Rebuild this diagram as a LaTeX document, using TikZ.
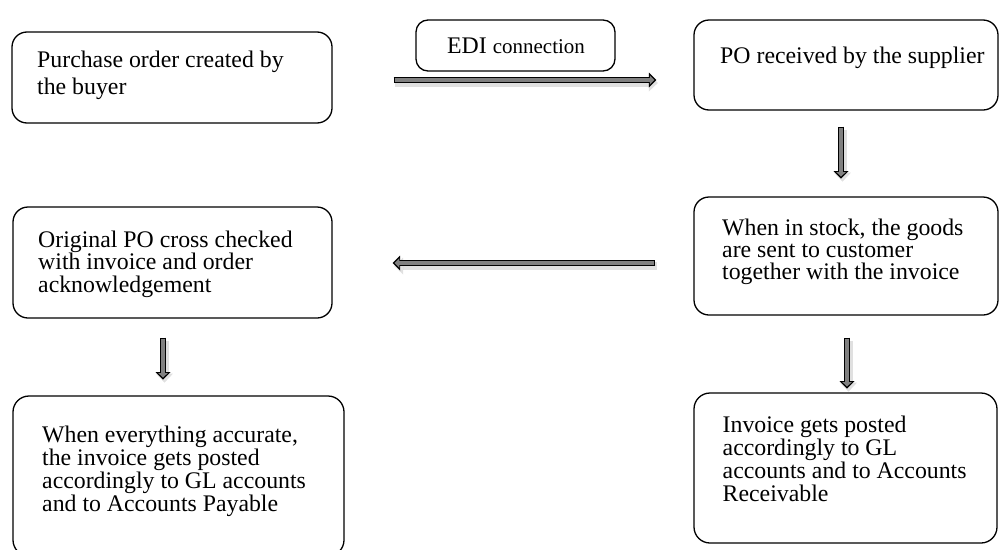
\documentclass[tikz,border=0pt]{standalone}
\usepackage{fontspec}
\setmainfont{Liberation Serif}
\usetikzlibrary{arrows.meta}
\newcommand{\boxtext}[2]{\parbox[t]{330pt}{\fontsize{23.8pt}{#1}\selectfont\lineskiplimit=-100pt #2}}
\begin{document}
\begin{tikzpicture}[x=1pt,y=-1pt,
  box/.style={draw, line width=1.3pt, rounded corners=15pt, inner sep=0pt},
  txt/.style={anchor=base west, inner sep=0pt},
  flow/.style={draw=gray, line width=3.4pt,
    -{Triangle[length=4.6pt,width=9.5pt,line width=0pt]},
    shorten >=2pt, shorten <=1.3pt,
    preaction={draw=black, opacity=0.12, line width=8pt,
      -{Triangle[length=9pt,width=17pt,line width=0pt]},
      shorten >=0pt, shorten <=0pt,
      transform canvas={shift={(1.5pt,-3pt)}}},
    preaction={draw=black, line width=6pt,
      -{Triangle[length=7.5pt,width=15pt,line width=0pt]},
      shorten >=0pt, shorten <=0pt}}]
\useasboundingbox (0,0) rectangle (1000,549);

% boxes
\node[box, minimum width=320pt, minimum height=91pt] (b1) at (172,77.5) {};
\node[box, rounded corners=12pt, minimum width=199pt, minimum height=51pt] (edi) at (515.5,45.5) {};
\node[box, minimum width=304pt, minimum height=90pt] (b2) at (846,65) {};
\node[box, minimum width=319pt, minimum height=111pt] (b3) at (172.5,262.5) {};
\node[box, minimum width=304pt, minimum height=118pt] (b4) at (846,256) {};
\node[box, rounded corners=16pt, minimum width=331pt, minimum height=160pt] (b5) at (178.5,476) {};
\node[box, rounded corners=16pt, minimum width=303pt, minimum height=150pt] (b6) at (845.5,468) {};

% texts
\node[txt] (t1) at (37,67) {\boxtext{27pt}{Purchase order created by\\the buyer}};
\node[txt] (tedi) at (447,53) {\fontsize{23.8pt}{24pt}\selectfont EDI {\fontsize{21pt}{21pt}\selectfont connection}};
\node[txt] (t2) at (720,63) {\boxtext{23pt}{PO received by the supplier}};
\node[txt] (t3) at (38,247) {\boxtext{22.5pt}{Original PO cross checked\\with invoice and order\\acknowledgement}};
\node[txt] (t4) at (722,235.5) {\boxtext{22.2pt}{When in stock, the goods\\are sent to customer\\together with the invoice}};
\node[txt] (t5) at (42,442) {\boxtext{23.3pt}{When everything accurate,\\the invoice gets posted\\accordingly to GL accounts\\and to Accounts Payable}};
\node[txt] (t6) at (722.5,432) {\boxtext{23.3pt}{Invoice gets posted\\accordingly to GL\\accounts and to Accounts\\Receivable}};

% connector ends
\coordinate (a1s) at ([shift={(61,2.5)}]b1.east);
\coordinate (a1e) at ([shift={(-37,15)}]b2.west);
\coordinate (a2s) at ([shift={(-5,16)}]b2.south);
\coordinate (a2e) at ([shift={(-5,68)}]b2.south);
\coordinate (a3s) at ([shift={(-38,7)}]b4.west);
\coordinate (a3e) at ([shift={(60,0.5)}]b3.east);
\coordinate (a4s) at ([shift={(-9.5,19)}]b3.south);
\coordinate (a4e) at ([shift={(-9.5,61)}]b3.south);
\coordinate (a5s) at ([shift={(1,22)}]b4.south);
\coordinate (a5e) at ([shift={(1,73)}]b4.south);

% connectors
\draw[flow] (a1s) -- (a1e);
\draw[flow] (a2s) -- (a2e);
\draw[flow] (a3s) -- (a3e);
\draw[flow] (a4s) -- (a4e);
\draw[flow] (a5s) -- (a5e);
\end{tikzpicture}
\end{document}
